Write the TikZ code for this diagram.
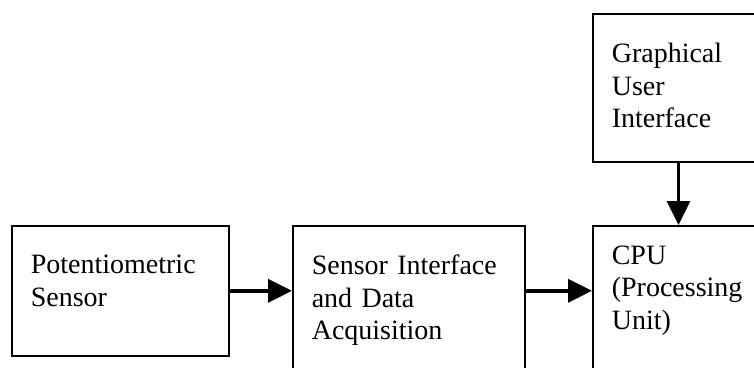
\documentclass[tikz,border=0pt]{standalone}
\usepackage{fontspec}
\setmainfont{Liberation Serif}
\usetikzlibrary{arrows.meta}

\tikzset{
  block/.style={draw, line width=1.6pt, anchor=north west, inner xsep=19pt, inner ysep=0pt,
    align=left, font=\fontsize{28}{32.5}\selectfont},
  flow/.style={-{Triangle[length=24pt,width=23pt]}, line width=3.5pt}
}

\begin{document}
\begin{tikzpicture}[x=1pt, y=-1pt]
\useasboundingbox (0,0) rectangle (754,367);
\clip (0,0) rectangle (754,367);
% blocks (units are pixels of the drawing, y downwards)
\node[block, text width=179pt, text height=48pt, text depth=82pt] (pot) at (11,225) {Potentiometric\\Sensor};
\node[block, text width=194pt, text height=49pt, text depth=150pt] (daq) at (292,225) {Sensor Interface\\and Data\\Acquisition};
\node[block, text width=133.4pt, text height=38.3pt, text depth=150pt] (cpu) at (592,225) {CPU\\(Processing\\Unit)};
\node[block, text width=133.4pt, text height=48.4pt, text depth=99.3pt] (gui) at (592,13.3) {Graphical\\User\\Interface};

% data flow
\draw[flow] (pot.east) -- (pot.east -| daq.west);
\draw[flow] (daq.east |- pot.east) -- (cpu.west |- pot.east);
\draw[flow] (gui.south) -- (cpu.north);
\end{tikzpicture}
\end{document}
